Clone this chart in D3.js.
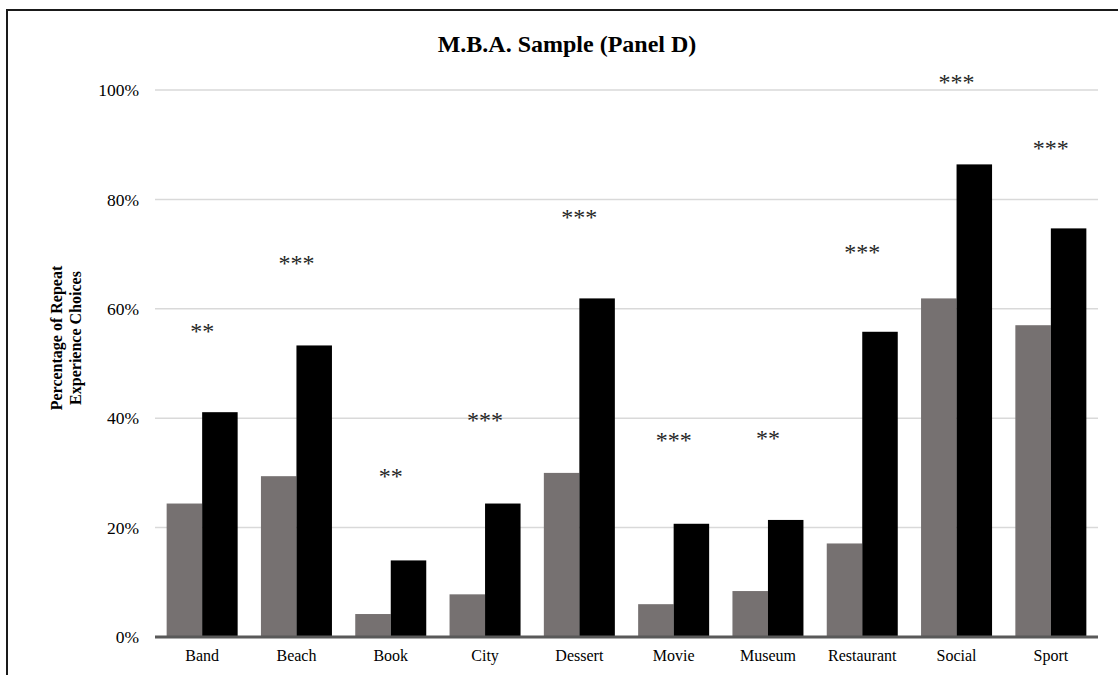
<!DOCTYPE html>
<html>
<head>
<meta charset="utf-8">
<script src="https://cdn.jsdelivr.net/npm/d3@7"></script>
<style>
    html, body { margin: 0; padding: 0; background: #fff; }
    svg { display: block; }
    text { font-family: "Liberation Serif", "Times New Roman", serif; }
</style>
</head>
<body>
<div id="chart"></div>
<script>
// Categories and the two series (percent of repeat experience choices)
const categories = ['Band', 'Beach', 'Book', 'City', 'Dessert', 'Movie', 'Museum', 'Restaurant', 'Social', 'Sport'];
const greySeries = [24.4, 29.4, 4.2, 7.8, 30.0, 6.0, 8.4, 17.1, 61.9, 57.0];
const blackSeries = [41.1, 53.3, 14.0, 24.4, 61.9, 20.7, 21.4, 55.8, 86.4, 74.7];

// Significance markers and the level (in %) they sit at
const stars = ['**', '***', '**', '***', '***', '***', '**', '***', '***', '***'];
const starLevels = [56.5, 68.9, 29.9, 40.3, 77.3, 36.6, 36.9, 70.9, 102.0, 90.0];

const yTicks = [0, 20, 40, 60, 80, 100];
const seriesColors = ['#767171', '#000000'];

const width = 1118;
const height = 675;
const margin = {top: 90, right: 20, bottom: 38, left: 155};
const plotRight = 1098;
const plotBottom = 637;

const svg = d3.select('#chart').append('svg')
    .attr('width', width)
    .attr('height', height);

// Outer frame of the chart (runs off the right and bottom edges)
svg.append('rect')
    .attr('x', 7)
    .attr('y', 10)
    .attr('width', 1200)
    .attr('height', 800)
    .attr('fill', 'none')
    .attr('stroke', '#1a1a1a')
    .attr('stroke-width', 2);

const x = d3.scaleBand()
    .domain(categories)
    .range([margin.left, plotRight])
    .paddingInner(0.247)
    .paddingOuter(0.1235);

const xSub = d3.scaleBand()
    .domain([0, 1])
    .range([0, x.bandwidth()]);

const y = d3.scaleLinear()
    .domain([0, 100])
    .range([plotBottom, margin.top]);

// Gridlines
svg.append('g')
    .selectAll('line')
    .data(yTicks.filter(d => d > 0))
    .enter().append('line')
    .attr('x1', margin.left)
    .attr('x2', plotRight)
    .attr('y1', d => y(d))
    .attr('y2', d => y(d))
    .attr('stroke', '#d9d9d9')
    .attr('stroke-width', 1.5);

// Y axis labels (no axis line)
const yAxis = svg.append('g')
    .attr('transform', `translate(${margin.left},0)`)
    .call(d3.axisLeft(y).tickValues(yTicks).tickSize(0).tickPadding(16).tickFormat(d => d + '%'));
yAxis.select('.domain').remove();
yAxis.selectAll('text')
    .attr('font-family', '"Liberation Serif", "Times New Roman", serif')
    .attr('font-size', '17.5px')
    .attr('fill', '#000')
    .attr('dy', '0.33em');

// Bars
const groups = svg.append('g')
    .selectAll('g')
    .data(categories)
    .enter().append('g')
    .attr('transform', d => `translate(${x(d)},0)`);

groups.selectAll('rect')
    .data((d, i) => [greySeries[i], blackSeries[i]])
    .enter().append('rect')
    .attr('x', (d, j) => xSub(j))
    .attr('y', d => y(d))
    .attr('width', xSub.bandwidth())
    .attr('height', d => plotBottom - y(d))
    .attr('fill', (d, j) => seriesColors[j]);

// Significance stars
svg.append('g')
    .selectAll('text')
    .data(categories)
    .enter().append('text')
    .attr('x', d => x(d) + x.bandwidth() / 2)
    .attr('y', (d, i) => y(starLevels[i]) + 11)
    .attr('text-anchor', 'middle')
    .attr('font-size', '24px')
    .attr('fill', '#262626')
    .text((d, i) => stars[i]);

// Zero axis line
svg.append('line')
    .attr('x1', margin.left)
    .attr('x2', plotRight)
    .attr('y1', y(0))
    .attr('y2', y(0))
    .attr('stroke', '#595959')
    .attr('stroke-width', 3);

// Category labels
const xAxis = svg.append('g')
    .attr('transform', `translate(0,${plotBottom})`)
    .call(d3.axisBottom(x).tickSize(0).tickPadding(13));
xAxis.select('.domain').remove();
xAxis.selectAll('text')
    .attr('font-family', '"Liberation Serif", "Times New Roman", serif')
    .attr('font-size', '16px')
    .attr('fill', '#000');

// Y axis title, two lines
const yTitle = svg.append('text')
    .attr('transform', 'translate(62,338) rotate(-90)')
    .attr('text-anchor', 'middle')
    .attr('font-size', '16px')
    .attr('font-weight', 'bold')
    .attr('fill', '#000');
yTitle.append('tspan').attr('x', 0).attr('dy', 0).text('Percentage of Repeat');
yTitle.append('tspan').attr('x', 0).attr('dy', 19).text('Experience Choices');

// Chart title
svg.append('text')
    .attr('x', 567)
    .attr('y', 52)
    .attr('text-anchor', 'middle')
    .attr('font-size', '24px')
    .attr('font-weight', 'bold')
    .attr('fill', '#000')
    .text('M.B.A. Sample (Panel D)');
</script>
</body>
</html>
